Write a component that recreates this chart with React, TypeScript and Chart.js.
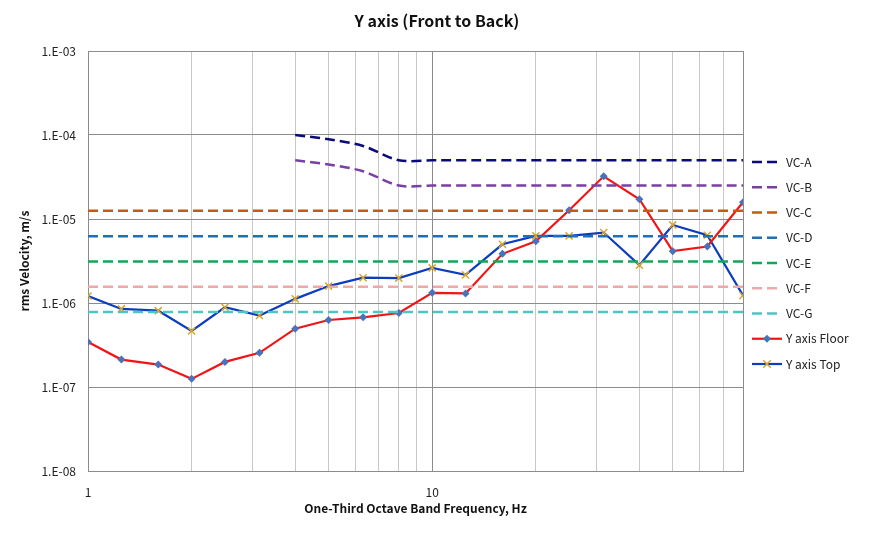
import { useEffect, useRef } from 'react';
import { Chart, registerables } from 'chart.js';

Chart.register(...registerables);

// one-third octave band centre frequencies, Hz
const freqs = [1, 1.25, 1.6, 2, 2.5, 3.15, 4, 5, 6.3, 8, 10, 12.5, 16, 20, 25, 31.5, 40, 50, 63, 80];

const floorVals = [
  3.44e-7, 2.12e-7, 1.85e-7, 1.25e-7, 1.99e-7, 2.55e-7, 4.95e-7, 6.28e-7, 6.75e-7, 7.6e-7,
  1.32e-6, 1.3e-6, 3.85e-6, 5.44e-6, 1.27e-5, 3.22e-5, 1.72e-5, 4.14e-6, 4.7e-6, 1.58e-5,
];
const topVals = [
  1.21e-6, 8.5e-7, 8.1e-7, 4.65e-7, 8.9e-7, 7.1e-7, 1.12e-6, 1.59e-6, 2.0e-6, 1.98e-6,
  2.62e-6, 2.16e-6, 5.0e-6, 6.3e-6, 6.3e-6, 6.9e-6, 2.82e-6, 8.5e-6, 6.4e-6, 1.23e-6,
];

// VC-A / VC-B rise below 8 Hz
const vcCurveFreqs = [4, 5, 6.3, 8, 10, 80];
const vcA = [1e-4, 8.9e-5, 7.4e-5, 5e-5, 5e-5, 5e-5];
const vcB = [5e-5, 4.45e-5, 3.7e-5, 2.5e-5, 2.5e-5, 2.5e-5];

// flat criteria over the whole band
const vcFlatRange = [1, 80];
const vcFlatNames = ['VC-C', 'VC-D', 'VC-E', 'VC-F', 'VC-G'];
const vcFlatLevels = [1.25e-5, 6.25e-6, 3.125e-6, 1.5625e-6, 7.8e-7];
const vcFlatColors = ['#C55A11', '#1F6FB8', '#12A658', '#F2A7A7', '#4CC6C2'];

const yTicks = [1e-8, 1e-7, 1e-6, 1e-5, 1e-4, 1e-3];
const xGridTicks = [1, 2, 3, 4, 5, 6, 7, 8, 9, 10, 20, 30, 40, 50, 60, 70, 80];

const TITLE = 'Y axis (Front to Back)';
const FONT = "'Noto Sans CJK KR', 'Noto Sans', sans-serif";

const pts = (xs: number[], ys: number[]) => xs.map((x, i) => ({ x, y: ys[i] }));

function drawMarker(ctx: CanvasRenderingContext2D, style: string, x: number, y: number, r: number, color: string) {
  ctx.save();
  ctx.setLineDash([]);
  if (style === 'rectRot') {
    ctx.fillStyle = color;
    ctx.beginPath();
    ctx.moveTo(x, y - r);
    ctx.lineTo(x + r, y);
    ctx.lineTo(x, y + r);
    ctx.lineTo(x - r, y);
    ctx.closePath();
    ctx.fill();
  } else {
    ctx.strokeStyle = color;
    ctx.lineWidth = 1.5;
    const d = r * 0.75;
    ctx.beginPath();
    ctx.moveTo(x - d, y - d);
    ctx.lineTo(x + d, y + d);
    ctx.moveTo(x + d, y - d);
    ctx.lineTo(x - d, y + d);
    ctx.stroke();
  }
  ctx.restore();
}

// title centred on the whole canvas + legend to the right of the plot
const sideLegend = {
  id: 'sideLegend',
  afterDraw(chart: any) {
    const ctx = chart.ctx as CanvasRenderingContext2D;

    ctx.save();
    ctx.fillStyle = '#111';
    ctx.font = `bold 16px ${FONT}`;
    ctx.textAlign = 'center';
    ctx.textBaseline = 'middle';
    ctx.fillText(TITLE, chart.width / 2, 13);
    ctx.restore();

    const x0 = chart.chartArea.right + 9;
    let y = 154;
    chart.data.datasets.forEach((ds: any) => {
      ctx.save();
      ctx.strokeStyle = ds.borderColor;
      ctx.lineWidth = ds.borderWidth;
      ctx.setLineDash(ds.borderDash || []);
      ctx.beginPath();
      ctx.moveTo(x0, y);
      ctx.lineTo(x0 + 30, y);
      ctx.stroke();
      ctx.restore();
      if (ds.pointRadius > 0) {
        drawMarker(ctx, ds.pointStyle, x0 + 15, y, ds.pointRadius, ds.pointBackgroundColor || ds.pointBorderColor);
      }
      ctx.save();
      ctx.fillStyle = '#222';
      ctx.font = `12px ${FONT}`;
      ctx.textBaseline = 'middle';
      ctx.fillText(ds.label, x0 + 34, y);
      ctx.restore();
      y += 25.25;
    });
  },
};

export default function App() {
  const canvasRef = useRef<HTMLCanvasElement>(null);
  const chartRef = useRef<Chart | null>(null);

  useEffect(() => {
    if (!canvasRef.current) return;
    chartRef.current?.destroy();

    const dashed = { borderWidth: 2.5, borderDash: [10, 5], pointRadius: 0, fill: false };
    const datasets: any[] = [
      { label: 'VC-A', data: pts(vcCurveFreqs, vcA), borderColor: '#0A0A78', tension: 0.3, ...dashed },
      { label: 'VC-B', data: pts(vcCurveFreqs, vcB), borderColor: '#7A3FA6', tension: 0.3, ...dashed },
      ...vcFlatNames.map((name, i) => ({
        label: name,
        data: pts(vcFlatRange, [vcFlatLevels[i], vcFlatLevels[i]]),
        borderColor: vcFlatColors[i],
        ...dashed,
      })),
      {
        label: 'Y axis Floor',
        data: pts(freqs, floorVals),
        borderColor: '#F01414',
        borderWidth: 2.2,
        pointStyle: 'rectRot',
        pointRadius: 4,
        pointBackgroundColor: '#4A72B8',
        pointBorderColor: '#4A72B8',
        pointBorderWidth: 0,
      },
      {
        label: 'Y axis Top',
        data: pts(freqs, topVals),
        borderColor: '#0C3DBE',
        borderWidth: 2.2,
        pointStyle: 'crossRot',
        pointRadius: 5,
        pointBorderColor: '#D9A62A',
        pointBorderWidth: 1.5,
      },
    ];

    chartRef.current = new Chart(canvasRef.current, {
      type: 'line',
      data: { datasets },
      plugins: [sideLegend],
      options: {
        animation: false,
        responsive: true,
        maintainAspectRatio: false,
        layout: { padding: { left: 0, right: 123, top: 43, bottom: 0 } },
        plugins: {
          legend: { display: false },
          tooltip: { enabled: false },
          title: { display: false },
        },
        scales: {
          x: {
            type: 'logarithmic',
            min: 1,
            max: 80,
            afterBuildTicks: (scale: any) => {
              scale.ticks = xGridTicks.map((v) => ({ value: v }));
            },
            afterFit: (scale: any) => {
              scale.height = 54;
            },
            ticks: {
              autoSkip: false,
              maxRotation: 0,
              padding: 14,
              color: '#222',
              font: { family: FONT, size: 12 },
              callback: (v: any) => (v === 1 || v === 10 ? String(v) : ''),
            },
            grid: {
              drawTicks: false,
              color: (c: any) => {
                const v = c.tick?.value;
                return v === 1 || v === 10 || v === 80 ? '#8C8C8C' : '#C8C8C8';
              },
            },
            border: { color: '#8C8C8C' },
            title: {
              display: true,
              text: 'One-Third Octave Band Frequency, Hz',
              color: '#111',
              font: { family: FONT, size: 12, weight: 'bold' },
              padding: { top: 4, bottom: 9 },
            },
          },
          y: {
            type: 'logarithmic',
            min: 1e-8,
            max: 1e-3,
            afterBuildTicks: (scale: any) => {
              scale.ticks = yTicks.map((v) => ({ value: v }));
            },
            afterFit: (scale: any) => {
              scale.width = 80;
            },
            ticks: {
              padding: 12,
              color: '#222',
              font: { family: FONT, size: 12 },
              callback: (v: any) => {
                const e = Math.round(-Math.log10(v));
                return `1.E-${String(e).padStart(2, '0')}`;
              },
            },
            grid: { drawTicks: false, color: '#8C8C8C' },
            border: { color: '#8C8C8C' },
            title: {
              display: true,
              text: 'rms Velocity, m/s',
              color: '#111',
              font: { family: FONT, size: 12, weight: 'bold' },
              padding: { top: 9, bottom: 0 },
            },
          },
        },
      },
    } as never);

    return () => {
      chartRef.current?.destroy();
    };
  }, []);

  return (
    <div style={{ position: 'relative', width: '100%', height: 517 }}>
      <canvas ref={canvasRef} />
    </div>
  );
}
